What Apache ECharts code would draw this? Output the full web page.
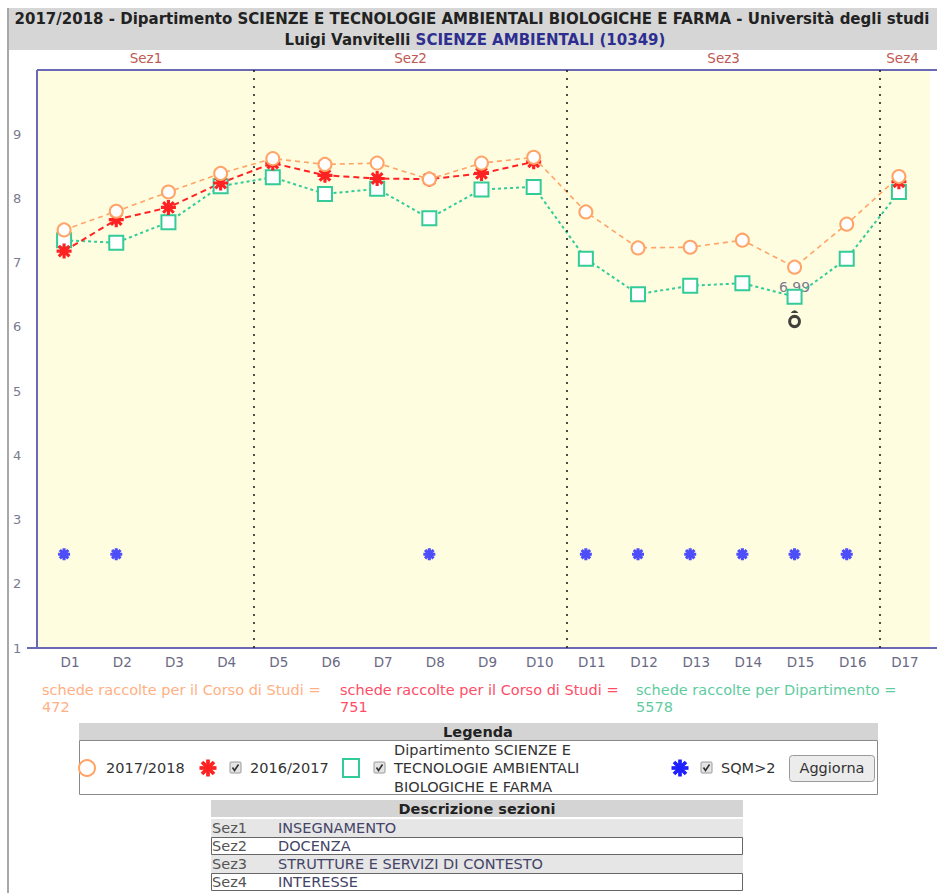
<!DOCTYPE html>
<html><head><meta charset="utf-8">
<script src="https://cdn.jsdelivr.net/npm/echarts@6/dist/echarts.min.js"></script>
<style>html,body{margin:0;padding:0;background:#fff}#c{width:937px;height:893px}</style>
</head><body><div id="c"></div>
<script>
const categories = ['D1','D2','D3','D4','D5','D6','D7','D8','D9','D10','D11','D12','D13','D14','D15','D16','D17'];
const y2017 = [7.51,7.80,8.10,8.39,8.62,8.53,8.55,8.30,8.55,8.64,7.79,7.23,7.24,7.35,6.93,7.60,8.34];
const y2016 = [7.18,7.67,7.86,8.24,8.55,8.36,8.31,8.30,8.39,8.57,null,null,null,null,null,null,8.26];
const yDip  = [7.35,7.31,7.63,8.19,8.33,8.07,8.15,7.69,8.14,8.18,7.06,6.51,6.64,6.68,6.47,7.06,8.10];
const sqm   = [2.46,2.46,null,null,null,null,null,2.46,null,null,2.46,2.46,2.46,2.46,2.46,2.46,null];
const blackMarker = [[14, 6.12]];
const valueLabel = [[14, 6.99]];
const yTicks = [1,2,3,4,5,6,7,8,9];
const sections = ['Sez1','Sez2','Sez3','Sez4'];
const sectionStart = [0,4,10,16];
const sectionDesc = ['INSEGNAMENTO','DOCENZA','STRUTTURE E SERVIZI DI CONTESTO','INTERESSE'];
const schede = [472, 751, 5578];

const FONT = 'DejaVu Sans';
const cOrange = '#ffa466', cRed = '#ff2222', cGreen = '#33cc99', cBlue = '#2020ff';

function starPolys(w) {
  return [0, 45, 90, 135].map(a => {
    const r = a * Math.PI / 180, c = Math.cos(r), s = Math.sin(r);
    return [[-10,-w],[10,-w],[10,w],[-10,w]].map(([x, y]) => [+(x*c - y*s).toFixed(2), +(x*s + y*c).toFixed(2)]);
  });
}
const starPath = w => 'path://' + starPolys(w).map(p => 'M' + p.map(q => q.join(',')).join(' L') + ' Z').join(' ');
const STAR_RED = starPath(2.1);
const STAR_BLUE = starPath(2.6);
const BLK = 'path://M-3,2.2 Q0,-2 3,2.2 Z M0,3.5 A5,5 0 1,0 0,13.5 A5,5 0 1,0 0,3.5 Z M0,5.9 A2.6,2.6 0 1,1 0,11.1 A2.6,2.6 0 1,1 0,5.9 Z';
const SHIFT = 0.14;

const n = categories.length;
const bounds = sectionStart.slice(1).map(s => s - 0.5 + SHIFT);
const edges = [-0.5].concat(bounds).concat([n - 0.5]);

const chart = echarts.init(document.getElementById('c'), null, {renderer: 'svg'});

function checkbox(x, y) {
  return [
    {type:'rect', shape:{x:x, y:y, width:11, height:11, r:1}, style:{fill:'#e4e4e4', stroke:'#9a9a9a', lineWidth:1}},
    {type:'polyline', shape:{points:[[x+2.5,y+5.5],[x+4.5,y+8.5],[x+8.5,y+2.5]]}, style:{stroke:'#333', lineWidth:1.6, fill:null}}
  ];
}
function starGraphic(cx, cy, size, color) {
  const k = size / 20;
  return starPolys(2.2).map(p => ({type:'polygon', shape:{points:p.map(([x, y]) => [cx + x*k, cy + y*k])}, style:{fill:color}}));
}
const txt = (x, y, t, o) => ({type:'text', x:x, y:y, style:Object.assign({text:t, font:'14.5px ' + FONT, fill:'#333', verticalAlign:'middle'}, o || {})});

const graphics = [
  {type:'rect', z:-10, shape:{x:37, y:70, width:893, height:578}, style:{fill:'#fffde0'}},
  {type:'rect', shape:{x:8, y:8, width:929, height:42}, style:{fill:'#d6d6d6'}},
  {type:'line', shape:{x1:8, y1:8, x2:8, y2:893}, style:{stroke:'#a8a8a8', lineWidth:2}},
  txt(472, 19, '2017/2018 - Dipartimento SCIENZE E TECNOLOGIE AMBIENTALI BIOLOGICHE E FARMA - Università degli studi', {font:'bold 15px ' + FONT, fill:'#222', align:'center'}),
  {type:'text', x:475, y:40, style:{text:'{a|Luigi Vanvitelli }{b|SCIENZE AMBIENTALI (10349)}', align:'center', verticalAlign:'middle',
     rich:{a:{fill:'#222', fontSize:15, fontWeight:'bold', fontFamily:FONT}, b:{fill:'#2e2e90', fontSize:15, fontWeight:'bold', fontFamily:FONT}}}},
  {type:'line', shape:{x1:37, y1:70, x2:937, y2:70}, style:{stroke:'#6a6ab4', lineWidth:2}},
  {type:'line', shape:{x1:37, y1:70, x2:37, y2:648}, style:{stroke:'#6a6ab4', lineWidth:2}},
  {type:'line', shape:{x1:27, y1:648, x2:937, y2:648}, style:{stroke:'#6a6ab4', lineWidth:2}},
  txt(42, 690, 'schede raccolte per il Corso di Studi =', {fill:'#ffb083'}),
  txt(42, 707, String(schede[0]), {fill:'#ffb083'}),
  txt(340, 690, 'schede raccolte per il Corso di Studi =', {fill:'#ff4d66'}),
  txt(340, 707, String(schede[1]), {fill:'#ff4d66'}),
  txt(636, 690, 'schede raccolte per Dipartimento =', {fill:'#5fcca0'}),
  txt(636, 707, String(schede[2]), {fill:'#5fcca0'}),
  // Legenda
  {type:'rect', shape:{x:79, y:723, width:799, height:17}, style:{fill:'#d4d4d4'}},
  txt(478, 732, 'Legenda', {font:'bold 14.5px ' + FONT, fill:'#222', align:'center'}),
  {type:'rect', shape:{x:79.5, y:740.5, width:798, height:54}, style:{fill:'none', stroke:'#8a8a8a', lineWidth:1}},
  {type:'circle', shape:{cx:87, cy:768, r:8}, style:{fill:'none', stroke:cOrange, lineWidth:2}},
  txt(106, 768, '2017/2018'),
  ...starGraphic(208, 768, 17, cRed),
  ...checkbox(230, 762),
  txt(250, 768, '2016/2017'),
  {type:'rect', shape:{x:343, y:759, width:16, height:18}, style:{fill:'none', stroke:cGreen, lineWidth:2}},
  ...checkbox(374, 762),
  txt(394, 768, 'Dipartimento SCIENZE E\nTECNOLOGIE AMBIENTALI\nBIOLOGICHE E FARMA', {lineHeight:18.5}),
  ...starGraphic(680, 768, 17, cBlue),
  ...checkbox(701, 762),
  txt(721, 768, 'SQM>2'),
  {type:'rect', shape:{x:789.5, y:755.5, width:85, height:26, r:3}, style:{fill:'#ececec', stroke:'#9a9a9a', lineWidth:1}},
  txt(832, 768, 'Aggiorna', {align:'center'}),
  // Descrizione sezioni
  {type:'rect', shape:{x:211, y:800, width:532, height:17}, style:{fill:'#d4d4d4'}},
  txt(477, 809, 'Descrizione sezioni', {font:'bold 14.5px ' + FONT, fill:'#222', align:'center'})
];
sections.forEach((s, i) => {
  const y = 819 + i * 18;
  if (i % 2 === 0) graphics.push({type:'rect', shape:{x:211, y:y, width:532, height:18}, style:{fill:'#e6e6e6'}});
  else graphics.push({type:'rect', shape:{x:211.5, y:y + 0.5, width:531, height:17}, style:{fill:'#fff', stroke:'#666', lineWidth:1}});
  graphics.push(txt(212, y + 9, s, {fill:'#555'}));
  graphics.push(txt(278, y + 9, sectionDesc[i], {fill:'#444466'}));
});

const option = {
  animation: false,
  backgroundColor: '#fff',
  grid: {left: 38, right: 12, top: 70, bottom: 245, show: false},
  xAxis: [
    {type:'category', data: categories, boundaryGap: true,
     axisLine:{show:false}, axisTick:{show:false}, splitLine:{show:false},
     axisLabel:{color:'#6a6a84', fontFamily:FONT, fontSize:13.5, margin:7, padding:[0,0,0,12]}},
    {type:'value', min:-0.5, max:n - 0.5, show:false, axisLine:{show:false}, splitLine:{show:false}}
  ],
  yAxis: {type:'value', min:1, max:10, interval:1,
    axisLine:{show:false}, axisTick:{show:false}, splitLine:{show:false},
    axisLabel:{color:'#7a7a90', fontFamily:FONT, fontSize:13, margin:25, align:'left',
      formatter: v => yTicks.indexOf(v) >= 0 ? String(v) : ''}},
  series: [
    {name:'sections', type:'line', xAxisIndex:1, data:[], symbol:'none', silent:true,
     markLine:{silent:true, symbol:'none', label:{show:false},
       lineStyle:{color:'#222', type:[2,6], width:1.6},
       data: bounds.map(b => ({xAxis:b}))},
     markArea:{silent:true, itemStyle:{color:'rgba(0,0,0,0)', borderWidth:0, borderColor:'transparent'},
       label:{show:true, position:'top', distance:5, color:'#c05a55', fontFamily:FONT, fontSize:13.5},
       data: sections.map((s, i) => [{name:s, xAxis:edges[i]}, {xAxis:edges[i+1]}])}},
    {name:'Dipartimento', type:'line', data:yDip, symbol:'emptyRect', symbolSize:14,
     itemStyle:{color:cGreen, borderWidth:1.5}, lineStyle:{color:cGreen, width:2, type:[3,3]}},
    {name:'2016/2017', type:'line', data:y2016, symbol:STAR_RED, symbolSize:15, connectNulls:false,
     itemStyle:{color:cRed}, lineStyle:{color:cRed, width:2, type:[6,4]}},
    {name:'2017/2018', type:'line', data:y2017, symbol:'emptyCircle', symbolSize:13,
     itemStyle:{color:cOrange, borderWidth:1.5}, lineStyle:{color:cOrange, width:1.6, type:[5,4]}},
    {name:'SQM>2', type:'scatter', data:sqm, symbol:STAR_BLUE, symbolSize:12, itemStyle:{color:cBlue}},
    {name:'marker', type:'scatter', data:blackMarker, symbol:BLK, symbolSize:[13,18], itemStyle:{color:'#111'}},
    {name:'valore', type:'scatter', data:valueLabel, symbolSize:0,
     label:{show:true, position:'bottom', distance:17, color:'#55557a', fontFamily:FONT, fontSize:14,
       formatter: p => String(p.value[1]).replace('.', ',')}}
  ],
  graphic: graphics
};
chart.setOption(option);
</script></body></html>
